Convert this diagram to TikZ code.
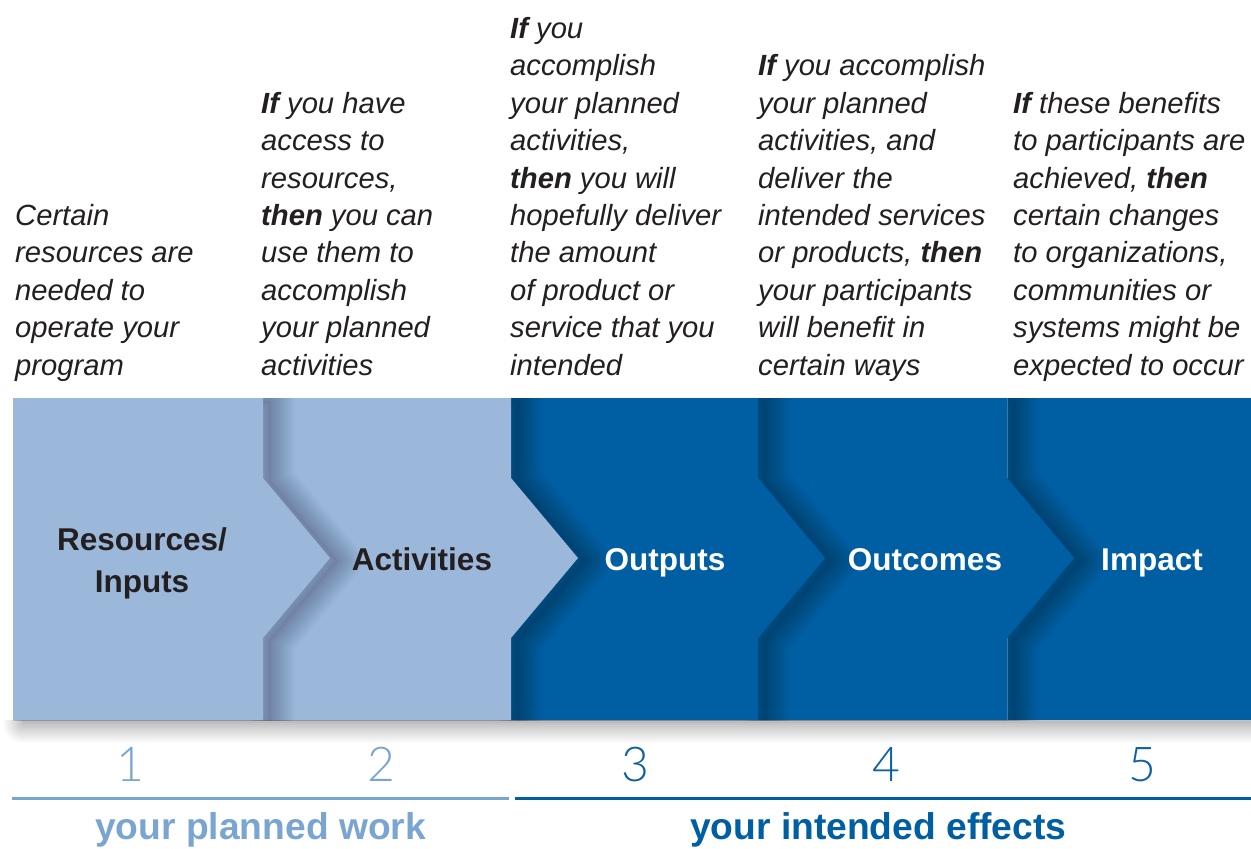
\documentclass[tikz,border=0pt]{standalone}
\usepackage{fontspec}
\setmainfont{Liberation Sans}
\newfontfamily\numfont{Lato Light}
\definecolor{lightband}{RGB}{155,183,218}
\definecolor{darkband}{RGB}{0,94,163}
\definecolor{lighttext}{RGB}{122,165,209}
\definecolor{darktext}{RGB}{14,96,164}
\definecolor{ink}{RGB}{35,31,32}
\newcommand\segshape[3]{\path[#1] (#2,398) -- (#3,398) -- (#3,478) -- ({#3+67},558) -- (#3,638) -- (#3,720) -- (#2,720) -- cycle;}
\newcommand\segshadow[2]{%
  \begin{scope}
    \clip (13,398) rectangle (1251,720);
    \begin{scope}[shift={(8,3)}]
      \foreach \r in {1,2,...,24}{\segshape{draw=black, draw opacity=0.0085, line width={2*\r}, line join=round}{#1}{#2}}
      \segshape{fill=black, fill opacity=0.03}{#1}{#2}
    \end{scope}
  \end{scope}}
\tikzset{
  desc/.style={anchor=base west, inner sep=0pt, text=ink, font=\fontsize{29.2}{37.4}\selectfont\itshape},
  lbl/.style={anchor=base, inner sep=0pt, font=\fontsize{31.5}{42}\selectfont\bfseries},
  num/.style={anchor=base, inner sep=0pt, font=\fontsize{48}{50}\numfont},
  grp/.style={anchor=base west, inner sep=0pt, font=\fontsize{37.2}{40}\selectfont\bfseries},
  rule/.style={line width=3pt},
}
\begin{document}
\begin{tikzpicture}[x=1pt,y=-1pt]
\useasboundingbox[fill=white] (0,0) rectangle (1251,849);

% drop shadow below band
\begin{scope}
  \clip (0,720) rectangle (1251,780);
  \begin{scope}[shift={(10,3)}]
    \foreach \r in {1,2,...,20}{\path[draw=black, draw opacity=0.012, line width={2*\r}, line join=round] (13,398) rectangle (1251,720);}
    \fill[black, fill opacity=0.04] (13,398) rectangle (1251,720);
  \end{scope}
\end{scope}

% segment 5
\fill[darkband] (1000,398) rectangle (1251,720);
% segment 4
\segshadow{758}{1007}
\segshape{fill=darkband}{758}{1007}
% segment 3
\segshadow{511}{758}
\segshape{fill=darkband}{511}{758}
% segment 2
\segshadow{263}{511}
\segshape{fill=lightband}{263}{511}
% segment 1
\segshadow{13}{263}
\segshape{fill=lightband}{13}{263}

% faint seam
\draw[white, opacity=0.25, line width=0.8pt] (1007,398) -- (1007,478) (1007,638) -- (1007,720);

% band labels
\node[lbl, text=ink] (l1) at (142,592) {\begin{tabular}[b]{@{}c@{}}Resources/\\Inputs\end{tabular}};
\node[lbl, text=ink] (l2) at (422,570) {Activities};
\node[lbl, text=white] (l3) at (665,570) {Outputs};
\node[lbl, text=white] (l4) at (925,570) {Outcomes};
\node[lbl, text=white] (l5) at (1152,570) {Impact};

% descriptions
\node[desc] (d1) at (15,375) {\begin{tabular}[b]{@{}l@{}}Certain\\resources are\\needed to\\operate your\\program\end{tabular}};
\node[desc] (d2) at (261,375) {\begin{tabular}[b]{@{}l@{}}\textbf{If} you have\\access to\\resources,\\\textbf{then} you can\\use them to\\accomplish\\your planned\\activities\end{tabular}};
\node[desc] (d3) at (510,375) {\begin{tabular}[b]{@{}l@{}}\textbf{If} you\\accomplish\\your planned\\activities,\\\textbf{then} you will\\hopefully deliver\\the amount\\of product or\\service that you\\intended\end{tabular}};
\node[desc] (d4) at (758,375) {\begin{tabular}[b]{@{}l@{}}\textbf{If} you accomplish\\your planned\\activities, and\\deliver the\\intended services\\or products, \textbf{then}\\your participants\\will benefit in\\certain ways\end{tabular}};
\node[desc] (d5) at (1013,375) {\begin{tabular}[b]{@{}l@{}}\textbf{If} these benefits\\to participants are\\achieved, \textbf{then}\\certain changes\\to organizations,\\communities or\\systems might be\\expected to occur\end{tabular}};

% numbers
\node[num, text=lighttext] (n1) at (130,781) {1};
\node[num, text=lighttext] (n2) at (381,781) {2};
\node[num, text=darktext] (n3) at (635,781) {3};
\node[num, text=darktext] (n4) at (886,781) {4};
\node[num, text=darktext] (n5) at (1142,781) {5};

% rules
\coordinate (la) at (12,798);
\coordinate (lb) at (509,798);
\coordinate (ra) at (515,798);
\coordinate (rb) at (1251,798);
\draw[rule, lighttext] (la) -- (lb);
\draw[rule, darkband] (ra) -- (rb);

% group captions
\node[grp, text=lighttext] (g1) at (95,839) {your planned work};
\node[grp, text=darkband] (g2) at (690,839) {your intended effects};
\end{tikzpicture}
\end{document}
